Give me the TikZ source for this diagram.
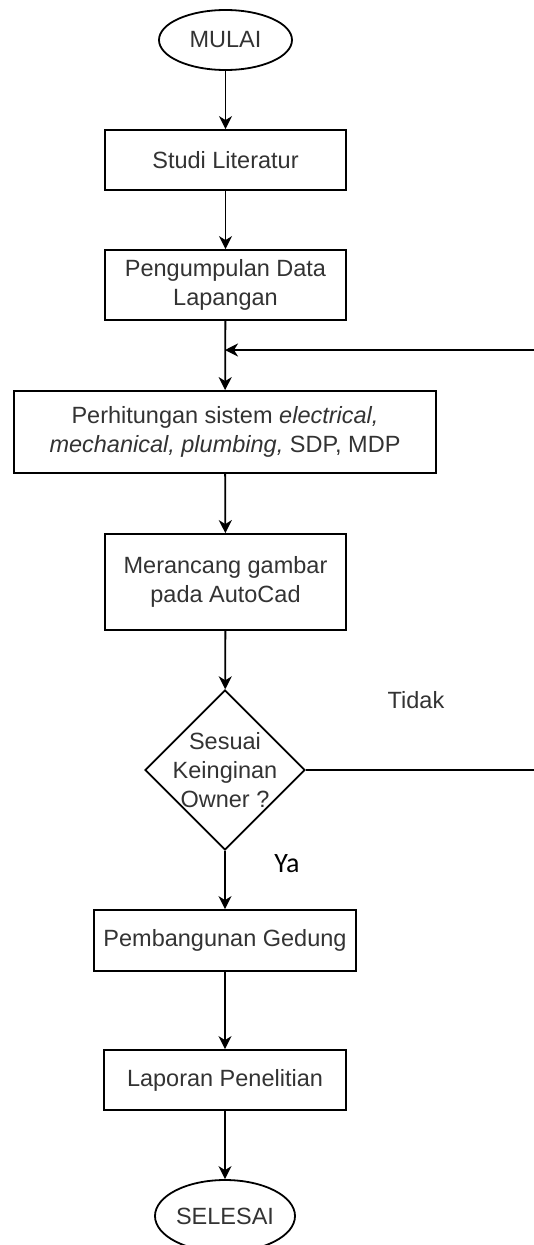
\documentclass[tikz,border=0pt]{standalone}
\usepackage{fontspec}
\setmainfont{Liberation Sans}
\newfontfamily\calibrifont{Carlito}
\usetikzlibrary{shapes.geometric,arrows.meta}
\begin{document}
\begin{tikzpicture}[x=1pt,y=-1pt,
  every node/.style={font=\fontsize{23.5}{29}\selectfont, text=black!80},
  proc/.style={draw=black, line width=1.8pt, rectangle, inner sep=0pt, align=center},
  term/.style={draw=black, line width=1.8pt, ellipse, inner sep=0pt},
  dec/.style={draw=black, line width=1.8pt, diamond, inner sep=0pt, aspect=1, minimum width=160pt, minimum height=160pt},
  flow/.style={draw=black, line width=1.8pt, -{Stealth[length=13pt,width=13pt,inset=4pt]}},
  conn/.style={draw=black, line width=1.8pt}]
\useasboundingbox (0,0) rectangle (534,1245);
\fill[white] (0,0) rectangle (534,1245);

\node[term, minimum width=133pt, minimum height=60pt] (mulai) at (225.5,40) {MULAI};
\node[proc, minimum width=241pt, minimum height=60pt] (studi) at (225.5,160) {Studi Literatur};
\node[proc, minimum width=241pt, minimum height=70pt] (kumpul) at (225.5,285) {Pengumpulan Data\\Lapangan};
\node[proc, minimum width=422pt, minimum height=82pt] (hitung) at (225,432) {Perhitungan sistem \textit{electrical,}\\\textit{mechanical, plumbing,} SDP, MDP};
\node[proc, minimum width=241pt, minimum height=96pt] (rancang) at (225.5,582) {Merancang gambar\\pada AutoCad};
\node[dec, label={[align=center, font=\fontsize{23.5}{29}\selectfont, text=black!80]center:Sesuai\\Keinginan\\Owner ?}] (cek) at (225,770) {};
\node[proc, minimum width=262pt, minimum height=61pt] (bangun) at (225,940.5) {Pembangunan Gedung};
\node[proc, minimum width=242pt, minimum height=60pt] (lapor) at (225,1080) {Laporan Penelitian};
\node[term, minimum width=140pt, minimum height=72pt] (selesai) at (225,1216) {SELESAI};

\node (tidak) at (416,700) {Tidak};
\node[font=\calibrifont\fontsize{28}{32}\selectfont, text=black] (ya) at (287,864) {Ya};

\coordinate (join) at (225,350);
\coordinate (fbin) at (534,350);
\coordinate (fbout) at (534,770);

\draw[flow] (mulai) -- (studi);
\draw[flow] (studi) -- (kumpul);
\draw[flow] (kumpul) -- (hitung);
\draw[flow] (fbin) -- (join);
\draw[flow] (hitung) -- (rancang);
\draw[flow] (rancang) -- (cek);
\draw[conn] (cek.east) -- (fbout);
\draw[flow] (cek) -- (bangun);
\draw[flow] (bangun) -- (lapor);
\draw[flow] (lapor) -- (selesai);
\end{tikzpicture}
\end{document}
